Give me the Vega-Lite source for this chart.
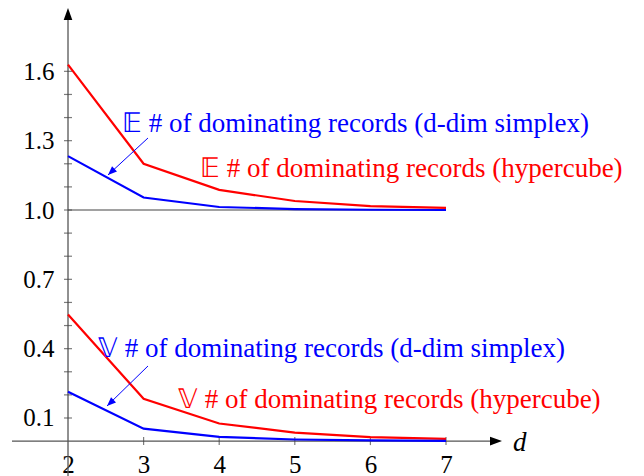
{
  "$schema": "https://vega.github.io/schema/vega-lite/v6.json",
  "width": 644,
  "height": 476,
  "autosize": {"type": "none"},
  "padding": 0,
  "background": "white",
  "config": {"view": {"stroke": null}},
  "encoding": {
    "x": {"field": "d", "type": "quantitative", "scale": {"domain": [1.1005, 9.619], "nice": false, "zero": false},
      "axis": {"orient": "bottom", "offset": -35, "values": [2, 3, 4, 5, 6, 7], "ticks": false, "domain": false, "grid": false, "title": null, "labelFont": "Liberation Serif", "labelFontSize": 25, "labelColor": "black", "labelBaseline": "alphabetic", "labelPadding": 31, "labelFlush": false}},
    "y": {"field": "v", "type": "quantitative", "scale": {"domain": [-0.151, 1.9087], "nice": false, "zero": false},
      "axis": {"orient": "left", "offset": -68, "values": [0.1, 0.4, 0.7, 1.0, 1.3, 1.6], "format": ".1f", "ticks": false, "domain": false, "grid": false, "title": null, "labelFont": "Liberation Serif", "labelFontSize": 25, "labelColor": "black", "labelPadding": 14, "labelFlush": false}}
  },
  "layer": [
    {
      "data": {"values": [
        {"d": 1.259, "d2": 7.648, "v": 0, "v2": 0},
        {"d": 2, "d2": 2, "v": -0.151, "v2": 1.844}
      ]},
      "mark": {"type": "rule", "color": "#555555", "strokeWidth": 1.3},
      "encoding": {"x2": {"field": "d2"}, "y2": {"field": "v2"}}
    },
    {
      "data": {"values": [{"d": 2, "d2": 7, "v": 1.0}]},
      "mark": {"type": "rule", "color": "#444444", "strokeWidth": 1.2},
      "encoding": {"x2": {"field": "d2"}}
    },
    {
      "data": {"values": [
        {"d": 2, "v": 0.1}, {"d": 2, "v": 0.2}, {"d": 2, "v": 0.3}, {"d": 2, "v": 0.4},
        {"d": 2, "v": 0.5}, {"d": 2, "v": 0.6}, {"d": 2, "v": 0.7}, {"d": 2, "v": 0.8},
        {"d": 2, "v": 0.9}, {"d": 2, "v": 1.0}, {"d": 2, "v": 1.1}, {"d": 2, "v": 1.2},
        {"d": 2, "v": 1.3}, {"d": 2, "v": 1.4}, {"d": 2, "v": 1.5}, {"d": 2, "v": 1.6}
      ]},
      "mark": {"type": "tick", "orient": "horizontal", "size": 8, "thickness": 1.2, "color": "#444444"}
    },
    {
      "data": {"values": [
        {"d": 3, "v": 0}, {"d": 4, "v": 0}, {"d": 5, "v": 0}, {"d": 6, "v": 0}, {"d": 7, "v": 0}
      ]},
      "mark": {"type": "tick", "orient": "vertical", "size": 8, "thickness": 1.2, "color": "#444444"}
    },
    {
      "data": {"values": [{"d": 7.741, "v": 0}]},
      "mark": {"type": "point", "shape": "M0,0L-1,-0.36L-1,0.36Z", "size": 576, "filled": true, "color": "black", "opacity": 1}
    },
    {
      "data": {"values": [{"d": 2, "v": 1.874}]},
      "mark": {"type": "point", "shape": "M0,0L-0.36,1L0.36,1Z", "size": 576, "filled": true, "color": "black", "opacity": 1}
    },
    {
      "data": {"values": [
        {"series": "E hypercube", "d": 2, "v": 1.629}, {"series": "E hypercube", "d": 3, "v": 1.2}, {"series": "E hypercube", "d": 4, "v": 1.087}, {"series": "E hypercube", "d": 5, "v": 1.039}, {"series": "E hypercube", "d": 6, "v": 1.017}, {"series": "E hypercube", "d": 7, "v": 1.009},
        {"series": "E simplex", "d": 2, "v": 1.233}, {"series": "E simplex", "d": 3, "v": 1.054}, {"series": "E simplex", "d": 4, "v": 1.013}, {"series": "E simplex", "d": 5, "v": 1.004}, {"series": "E simplex", "d": 6, "v": 1.001}, {"series": "E simplex", "d": 7, "v": 1.0},
        {"series": "V hypercube", "d": 2, "v": 0.548}, {"series": "V hypercube", "d": 3, "v": 0.183}, {"series": "V hypercube", "d": 4, "v": 0.076}, {"series": "V hypercube", "d": 5, "v": 0.037}, {"series": "V hypercube", "d": 6, "v": 0.017}, {"series": "V hypercube", "d": 7, "v": 0.01},
        {"series": "V simplex", "d": 2, "v": 0.214}, {"series": "V simplex", "d": 3, "v": 0.054}, {"series": "V simplex", "d": 4, "v": 0.018}, {"series": "V simplex", "d": 5, "v": 0.007}, {"series": "V simplex", "d": 6, "v": 0.003}, {"series": "V simplex", "d": 7, "v": 0.001}
      ]},
      "mark": {"type": "line", "strokeWidth": 2.2},
      "encoding": {
        "color": {"field": "series", "type": "nominal", "legend": null,
          "scale": {"domain": ["E hypercube", "E simplex", "V hypercube", "V simplex"], "range": ["#ff0000", "#0000ff", "#ff0000", "#0000ff"]}},
        "detail": {"field": "series"}
      }
    },
    {
      "data": {"values": [
        {"d": 3.058, "d2": 2.529, "v": 1.3115, "v2": 1.1515},
        {"d": 3.058, "d2": 2.516, "v": 0.325, "v2": 0.152}
      ]},
      "mark": {"type": "rule", "color": "#0000ff", "strokeWidth": 1},
      "encoding": {"x2": {"field": "d2"}, "y2": {"field": "v2"}}
    },
    {
      "data": {"values": [
        {"d": 2.529, "v": 1.1515},
        {"d": 2.516, "v": 0.152}
      ]},
      "mark": {"type": "point", "shape": "M0,0L-0.4,1L0.4,1Z", "size": 324, "angle": 226.5, "filled": true, "color": "#0000ff", "opacity": 1}
    },
    {
      "data": {"values": [
        {"series": "E simplex", "label": "𝔼 # of dominating records (d-dim simplex)", "d": 2.714, "v": 1.3375},
        {"series": "E hypercube", "label": "𝔼 # of dominating records (hypercube)", "d": 3.746, "v": 1.1428},
        {"series": "V simplex", "label": "𝕍 # of dominating records (d-dim simplex)", "d": 2.397, "v": 0.3643},
        {"series": "V hypercube", "label": "𝕍 # of dominating records (hypercube)", "d": 3.455, "v": 0.1432}
      ]},
      "mark": {"type": "text", "align": "left", "baseline": "alphabetic", "font": "Liberation Serif", "fontSize": 27},
      "encoding": {
        "text": {"field": "label"},
        "color": {"field": "series", "type": "nominal", "legend": null}
      }
    },
    {
      "data": {"values": [{"label": "d", "d": 7.886, "v": -0.043}]},
      "mark": {"type": "text", "align": "left", "baseline": "alphabetic", "font": "Liberation Serif", "fontStyle": "italic", "fontSize": 27, "color": "black"},
      "encoding": {"text": {"field": "label"}}
    }
  ]
}
